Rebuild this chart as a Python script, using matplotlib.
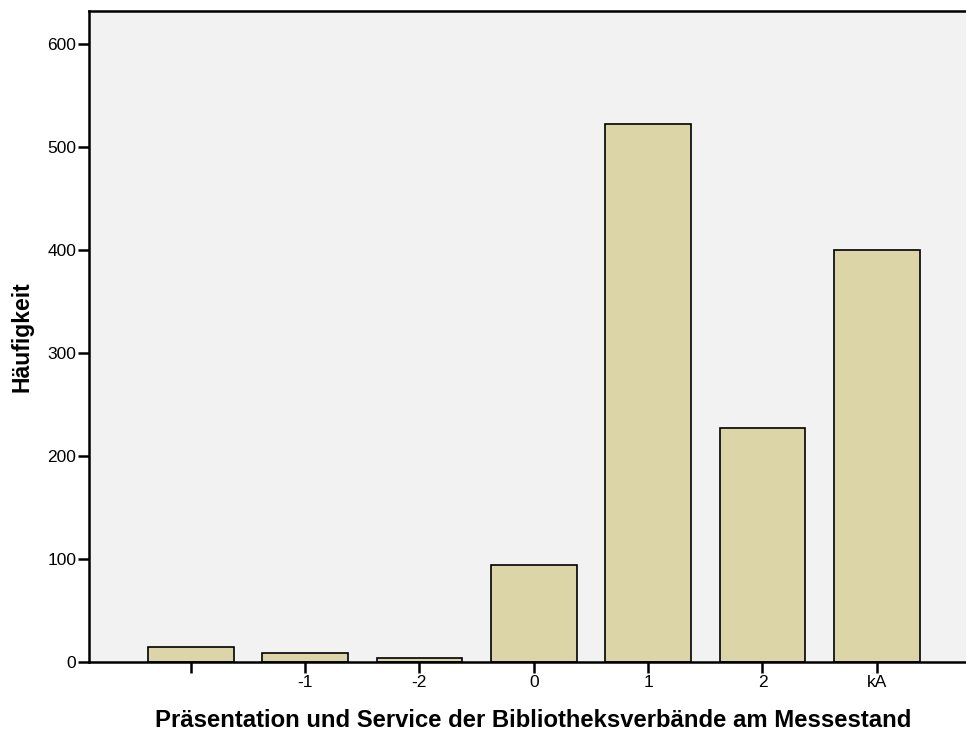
import matplotlib
matplotlib.use("Agg")
import matplotlib.pyplot as plt

# data
categories = ["", "-1", "-2", "0", "1", "2", "kA"]
counts = [15, 9, 4, 94, 522, 227, 400]

C_BG = "#f2f2f2"
C_BAR = "#dcd5a8"

plt.rcParams["font.family"] = ["Liberation Sans", "DejaVu Sans"]

fig = plt.figure(figsize=(9.66, 7.35), dpi=100)
ax = fig.add_axes([0.0921, 0.0993, 0.9079, 0.8857])
ax.set_facecolor(C_BG)

x = range(len(categories))
ax.bar(x, counts, width=0.75, color=C_BAR, edgecolor="black", linewidth=1.2, zorder=2)

ax.set_xlim(-0.89, 6.78)
ax.set_ylim(0, 632)
ax.set_xticks(list(x))
ax.set_xticklabels(categories)
ax.set_yticks([0, 100, 200, 300, 400, 500, 600])

ax.tick_params(axis="both", direction="out", length=8, width=1.8, labelsize=12.5, pad=1)
for side in ("left", "bottom", "top"):
    ax.spines[side].set_linewidth(1.8)
ax.spines["right"].set_visible(False)

ax.set_ylabel("Häufigkeit", fontsize=16.5, fontweight="bold", va="center")
ax.yaxis.set_label_coords(-0.0764, 0.5)
ax.set_xlabel("Präsentation und Service der Bibliotheksverbände am Messestand",
              fontsize=17.2, fontweight="bold", va="center")
ax.xaxis.set_label_coords(0.5065, -0.0906)

fig.savefig("out.png", dpi=100, facecolor="white")
